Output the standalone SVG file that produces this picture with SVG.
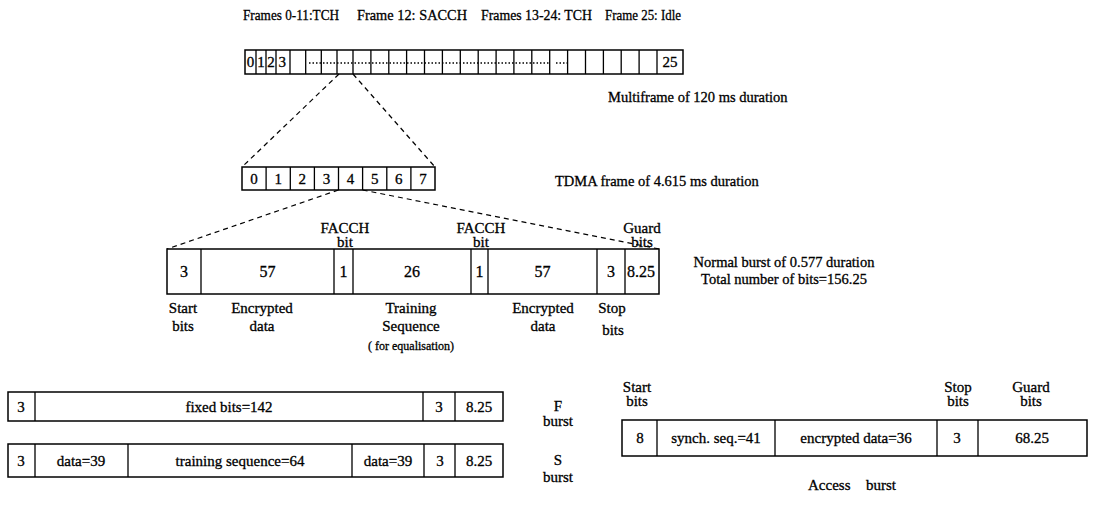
<svg xmlns="http://www.w3.org/2000/svg" width="1109" height="512" viewBox="0 0 1109 512">
<style>
.box{fill:#fff;stroke:#000;stroke-width:1.5}
.sep{stroke:#000;stroke-width:1.3;fill:none}
.dash{stroke:#000;stroke-width:1.2;stroke-dasharray:5 4;fill:none}
.dot{stroke:#000;stroke-width:1.5;stroke-dasharray:1.5 2;fill:none}
text{font-family:"Liberation Serif","Times New Roman",serif;font-size:15px;fill:#000;stroke:#000;stroke-width:0.3}
.c{text-anchor:middle}
.s{font-size:14.5px}
.t{font-size:15px}
.xs{font-size:12px}
.b{font-size:16px}
</style>
<rect width="1109" height="512" fill="#fff"/>

<g id="title">
<text class="t" x="243" y="20" textLength="96" lengthAdjust="spacingAndGlyphs">Frames 0-11:TCH</text>
<text class="t" x="357" y="20" textLength="110" lengthAdjust="spacingAndGlyphs">Frame 12: SACCH</text>
<text class="t" x="481" y="20" textLength="111" lengthAdjust="spacingAndGlyphs">Frames 13-24: TCH</text>
<text class="t" x="605" y="20" textLength="76" lengthAdjust="spacingAndGlyphs">Frame 25: Idle</text>
</g>

<g id="multiframe">
<rect class="box" x="245" y="50" width="438" height="24"/>
<path class="sep" d="M256 50V74M266 50V74M276 50V74M290 50V74M305.7 50V74M321.3 50V74M337 50V74M353 50V74M370.9 50V74M388.8 50V74M406.6 50V74M424.5 50V74M442.4 50V74M460.3 50V74M478.2 50V74M496.1 50V74M513.9 50V74M531.8 50V74M549.7 50V74M567.6 50V74M585.5 50V74M603.4 50V74M621.2 50V74M639.1 50V74M657 50V74"/>
<path class="dot" d="M309 63H550M556 63H567"/>
<text class="c" x="250.5" y="67">0</text>
<text class="c" x="261" y="67">1</text>
<text class="c" x="271" y="67">2</text>
<text x="278.5" y="67">3</text>
<text class="c" x="670" y="67">25</text>
</g>
<text id="multiframe-label" class="s" x="608" y="102">Multiframe of 120 ms duration</text>

<g id="tdma-frame">
<rect class="box" x="242" y="167" width="193" height="23"/>
<path class="sep" d="M266.1 167V190M290.3 167V190M314.4 167V190M338.5 167V190M362.6 167V190M386.8 167V190M410.9 167V190"/>
<text class="c" x="254" y="184">0</text>
<text class="c" x="278.2" y="184">1</text>
<text class="c" x="302.3" y="184">2</text>
<text class="c" x="326.5" y="184">3</text>
<text class="c" x="350.6" y="184">4</text>
<text class="c" x="374.7" y="184">5</text>
<text class="c" x="398.8" y="184">6</text>
<text class="c" x="423" y="184">7</text>
</g>
<text id="tdma-label" class="s" x="555" y="186">TDMA frame of 4.615 ms duration</text>

<g id="connectors">
<path class="dash" d="M339 74L242 167"/>
<path class="dash" d="M353 74L435 167"/>
<path class="dash" d="M338.5 190L167 249"/>
<path class="dash" d="M362.6 190L659 249"/>
</g>

<g id="normal-burst">
<rect class="box" x="167" y="249" width="492" height="45"/>
<path class="sep" d="M201 249V294M334 249V294M353 249V294M471 249V294M488 249V294M597 249V294M625 249V294"/>
<text class="c b" x="184" y="277">3</text>
<text class="c b" x="267.5" y="277">57</text>
<text class="c b" x="343.5" y="277">1</text>
<text class="c b" x="412" y="277">26</text>
<text class="c b" x="479.5" y="277">1</text>
<text class="c b" x="542.5" y="277">57</text>
<text class="c b" x="611" y="277">3</text>
<text class="b" x="627" y="277">8.25</text>
<text class="c" x="345" y="233">FACCH</text>
<text class="c" x="345" y="247">bit</text>
<text class="c" x="481" y="233">FACCH</text>
<text class="c" x="481" y="247">bit</text>
<text class="c" x="642" y="233">Guard</text>
<text class="c" x="642" y="247">bits</text>
<text class="c" x="183" y="313">Start</text>
<text class="c" x="183" y="331">bits</text>
<text class="c" x="262" y="313">Encrypted</text>
<text class="c" x="262" y="331">data</text>
<text class="c" x="411" y="313">Training</text>
<text class="c" x="411" y="331">Sequence</text>
<text class="c xs" x="411" y="350">( for equalisation)</text>
<text class="c" x="543" y="313">Encrypted</text>
<text class="c" x="543" y="331">data</text>
<text class="c" x="612" y="313">Stop</text>
<text class="c" x="613" y="335">bits</text>
</g>
<g id="normal-burst-label">
<text class="c s" x="784" y="267">Normal burst of 0.577 duration</text>
<text class="c s" x="784" y="284">Total number of bits=156.25</text>
</g>

<g id="f-burst">
<rect class="box" x="8" y="392" width="495" height="29"/>
<path class="sep" d="M35 392V421M423 392V421M455 392V421"/>
<text class="c" x="21" y="412">3</text>
<text class="c" x="229" y="412">fixed bits=142</text>
<text class="c" x="439" y="412">3</text>
<text class="c" x="479" y="412">8.25</text>
<text class="c" x="558" y="411">F</text>
<text class="c" x="558" y="426">burst</text>
</g>

<g id="s-burst">
<rect class="box" x="8" y="444" width="495" height="33"/>
<path class="sep" d="M35 444V477M128 444V477M352 444V477M424 444V477M455 444V477"/>
<text class="c" x="21" y="466">3</text>
<text class="c" x="81" y="466">data=39</text>
<text class="c" x="240" y="466">training sequence=64</text>
<text class="c" x="388" y="466">data=39</text>
<text class="c" x="440" y="466">3</text>
<text class="c" x="479" y="466">8.25</text>
<text class="c" x="558" y="465">S</text>
<text class="c" x="558" y="482">burst</text>
</g>

<g id="access-burst">
<rect class="box" x="622" y="420" width="465" height="36"/>
<path class="sep" d="M657 420V456M775 420V456M937 420V456M978 420V456"/>
<text class="c" x="640" y="443">8</text>
<text class="c" x="716" y="443">synch. seq.=41</text>
<text class="c" x="856" y="443">encrypted data=36</text>
<text class="c" x="957" y="443">3</text>
<text class="c" x="1032" y="443">68.25</text>
<text class="c" x="637" y="392">Start</text>
<text class="c" x="637" y="406">bits</text>
<text class="c" x="958" y="392">Stop</text>
<text class="c" x="958" y="406">bits</text>
<text class="c" x="1031" y="392">Guard</text>
<text class="c" x="1031" y="406">bits</text>
<text x="808" y="490">Access</text>
<text x="866" y="490">burst</text>
</g>
</svg>
